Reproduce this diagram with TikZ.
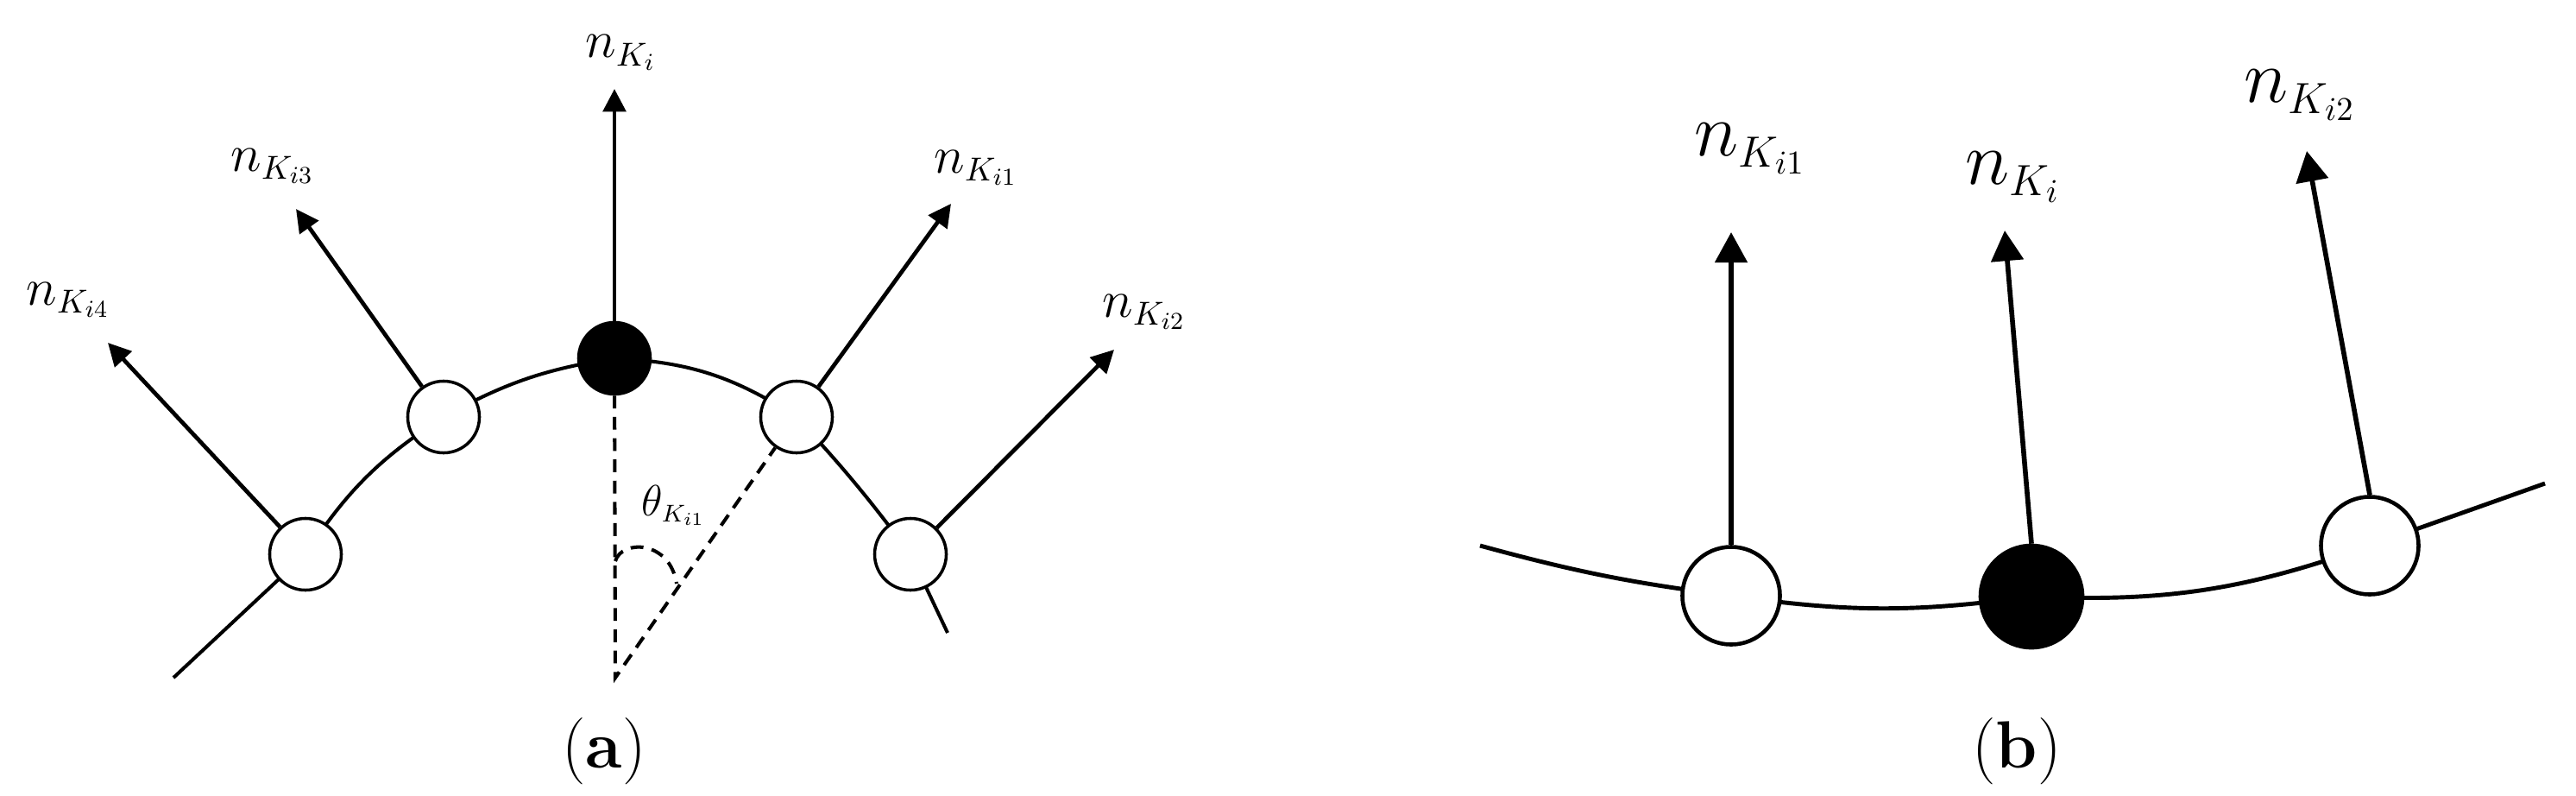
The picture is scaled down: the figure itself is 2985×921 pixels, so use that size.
\documentclass[tikz,border=0pt]{standalone}
\usetikzlibrary{arrows.meta}
\renewcommand{\defaultscriptratio}{.6}
\renewcommand{\defaultscriptscriptratio}{.45}

\begin{document}
\begin{tikzpicture}[x=0.01cm, y=-0.01cm,
  every node/.style={inner sep=0pt},
  wnode/.style={circle, draw, fill=white, line width=1pt, minimum size=.83cm},
  bnode/.style={wnode, fill=black},
  wnodeb/.style={circle, draw, fill=white, line width=1.3pt, minimum size=1.13cm},
  bnodeb/.style={wnodeb, fill=black, minimum size=1.18cm},
  curveline/.style={line width=1.15pt},
  curvelineb/.style={line width=1.4pt},
  normalvec/.style={-{Triangle[length=7.5pt,width=7.5pt]}, line width=1.35pt},
  normalvecb/.style={-{Triangle[length=10pt,width=10.5pt]}, line width=1.6pt},
  guide/.style={dash pattern=on 4.2pt off 2.8pt, line width=1.15pt},
  lbl/.style={anchor=base west, font=\fontsize{18}{20}\selectfont},
  lblb/.style={anchor=base west, font=\fontsize{24}{26}\selectfont},
  lblt/.style={anchor=base west, font=\fontsize{14}{16}\selectfont},
  sublbl/.style={font=\fontsize{22}{24}\selectfont}]
  \useasboundingbox (0,0) rectangle (2985,921);

  % (a)
  \coordinate (pc) at (712,415);
  \coordinate (p1) at (923,483);
  \coordinate (p2) at (1055,642);
  \coordinate (p3) at (514,483);
  \coordinate (p4) at (354,642);
  \coordinate (a0) at (201,785);
  \coordinate (a1) at (1098,733);
  \coordinate (apex) at (713,785);
  \coordinate (tc) at (712,103);
  \coordinate (t1) at (1102,236);
  \coordinate (t2) at (1291,405);
  \coordinate (t3) at (343,242);
  \coordinate (t4) at (125,397);

  \draw[curveline] (a0) -- (p4) to[bend left=12] (p3) to[bend left=10] (pc)
    to[bend left=15] (p1) to[bend left=3] (p2) -- (a1);

  \node (ctr) [bnode] at (pc) {};
  \node (w1)  [wnode] at (p1) {};
  \node (w2)  [wnode] at (p2) {};
  \node (w3)  [wnode] at (p3) {};
  \node (w4)  [wnode] at (p4) {};

  \path (ctr) edge[normalvec] (tc)
        (w1)  edge[normalvec] (t1)
        (w2)  edge[normalvec] (t2)
        (w3)  edge[normalvec] (t3)
        (w4)  edge[normalvec] (t4);
  \draw[guide] (ctr) -- (apex) -- (w1);
  \draw[guide] (713,650) .. controls (720,625) and (776,625) .. (784,676);

  \node (nki)  [lbl] at (678,67)   {$n_{K_i}$};
  \node (nki1) [lbl] at (1082,200) {$n_{K_{i1}}$};
  \node (nki2) [lbl] at (1277,367) {$n_{K_{i2}}$};
  \node (nki3) [lbl] at (267,198)  {$n_{K_{i3}}$};
  \node (nki4) [lbl] at (30,353)   {$n_{K_{i4}}$};
  \node (theta) [lblt] at (743,597) {$\theta_{K_{i1}}$};
  \node (capa) [sublbl] at (700,870) {(\textbf{a})};

  % (b)
  \coordinate (q1) at (2006,690);
  \coordinate (qc) at (2354,691);
  \coordinate (q2) at (2746,632);
  \coordinate (b0) at (1715,632);
  \coordinate (b1) at (2949,560);
  \coordinate (bt1) at (2006,269);
  \coordinate (btc) at (2323,267);
  \coordinate (bt2) at (2673,175);

  \draw[curvelineb] (b0) to[bend right=4] (q1) to[bend right=8] (qc)
    to[bend right=11] (q2) -- (b1);

  \node (bw1)  [wnodeb] at (q1) {};
  \node (bctr) [bnodeb] at (qc) {};
  \node (bw2)  [wnodeb] at (q2) {};

  \path (bw1.north)  edge[normalvecb] (bt1)
        (bctr.north) edge[normalvecb] (btc)
        (bw2.north)  edge[normalvecb] (bt2);

  \node (bnki1) [lblb] at (1963,180) {$n_{K_{i1}}$};
  \node (bnki)  [lblb] at (2277,213) {$n_{K_i}$};
  \node (bnki2) [lblb] at (2600,118) {$n_{K_{i2}}$};
  \node (capb) [sublbl] at (2337,870) {(\textbf{b})};
\end{tikzpicture}
\end{document}
